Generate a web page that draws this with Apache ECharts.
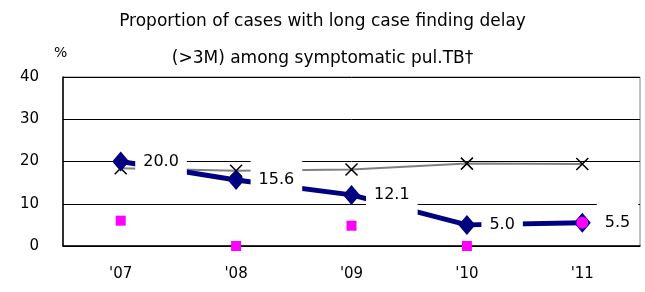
<!DOCTYPE html>
<html>
<head>
<meta charset="utf-8">
<script src="https://cdn.jsdelivr.net/npm/echarts@6/dist/echarts.min.js"></script>
<style>html,body{margin:0;padding:0;background:#fff;}#c{width:645px;height:292px;}</style>
</head>
<body>
<div id="c"></div>
<script>
var categories = ["'07", "'08", "'09", "'10", "'11"];
var delayValues = [20.0, 15.6, 12.1, 5.0, 5.5];
var crossValues = [18.4, 17.8, 18.1, 19.5, 19.4];
var magentaValues = [6.0, 0, 4.8, 0, 5.5];
var yTicks = [0, 10, 20, 30, 40];
var titleLines = ["Proportion of cases with long case finding delay", "(>3M) among symptomatic pul.TB\u2020"];

var FONT = "DejaVu Sans";
var chart = echarts.init(document.getElementById('c'), null, {renderer: 'canvas'});
chart.setOption({
  animation: false,
  backgroundColor: '#fff',
  title: {
    text: titleLines.join('\n'),
    left: 'center',
    top: 3,
    padding: [0, 0, 0, 6],
    textStyle: {fontFamily: FONT, fontSize: 17, fontWeight: 'normal', color: '#000', lineHeight: 37}
  },
  graphic: [{
    type: 'text', left: 54, top: 46,
    style: {text: '%', fontFamily: FONT, fontSize: 14, fill: '#000'}
  }],
  grid: {left: 63, right: 5, top: 77, bottom: 46, show: true, borderColor: '#808080', borderWidth: 1},
  xAxis: {
    type: 'category',
    data: categories,
    boundaryGap: true,
    axisLine: {lineStyle: {color: '#000', width: 1.5}},
    axisTick: {inside: true, length: 6, lineStyle: {color: '#000'}},
    axisLabel: {fontFamily: FONT, fontSize: 15, color: '#000', margin: 21}
  },
  yAxis: {
    type: 'value',
    min: yTicks[0], max: yTicks[yTicks.length - 1], interval: 10,
    axisLine: {show: true, lineStyle: {color: '#000', width: 1.5}},
    axisTick: {show: false},
    splitLine: {lineStyle: {color: '#000', width: 1}},
    axisLabel: {fontFamily: FONT, fontSize: 15, color: '#000', margin: 24}
  },
  series: [
    {
      type: 'line', data: crossValues, z: 2,
      symbol: 'path://M0,0L10,10M10,0L0,10', symbolSize: 12,
      itemStyle: {color: '#000', borderColor: '#000', borderWidth: 1.5},
      lineStyle: {color: '#808080', width: 2}
    },
    {
      type: 'line', data: delayValues, z: 3,
      symbol: 'diamond', symbolSize: [17, 20],
      itemStyle: {color: '#000080'},
      lineStyle: {color: '#000080', width: 5},
      label: {
        show: true, position: 'right', distance: 6,
        formatter: function (p) { return p.value.toFixed(1); },
        fontFamily: FONT, fontSize: 16, color: '#000',
        backgroundColor: '#fff', padding: [12, 8]
      }
    },
    {
      type: 'line', z: 4,
      data: magentaValues.map(function (v, i) {
        return i === 4 ? {value: v, symbol: 'circle', symbolSize: 12} : v;
      }),
      symbol: 'rect', symbolSize: 10,
      itemStyle: {color: '#FF00FF'},
      lineStyle: {opacity: 0, width: 0}
    }
  ]
});
</script>
</body>
</html>
